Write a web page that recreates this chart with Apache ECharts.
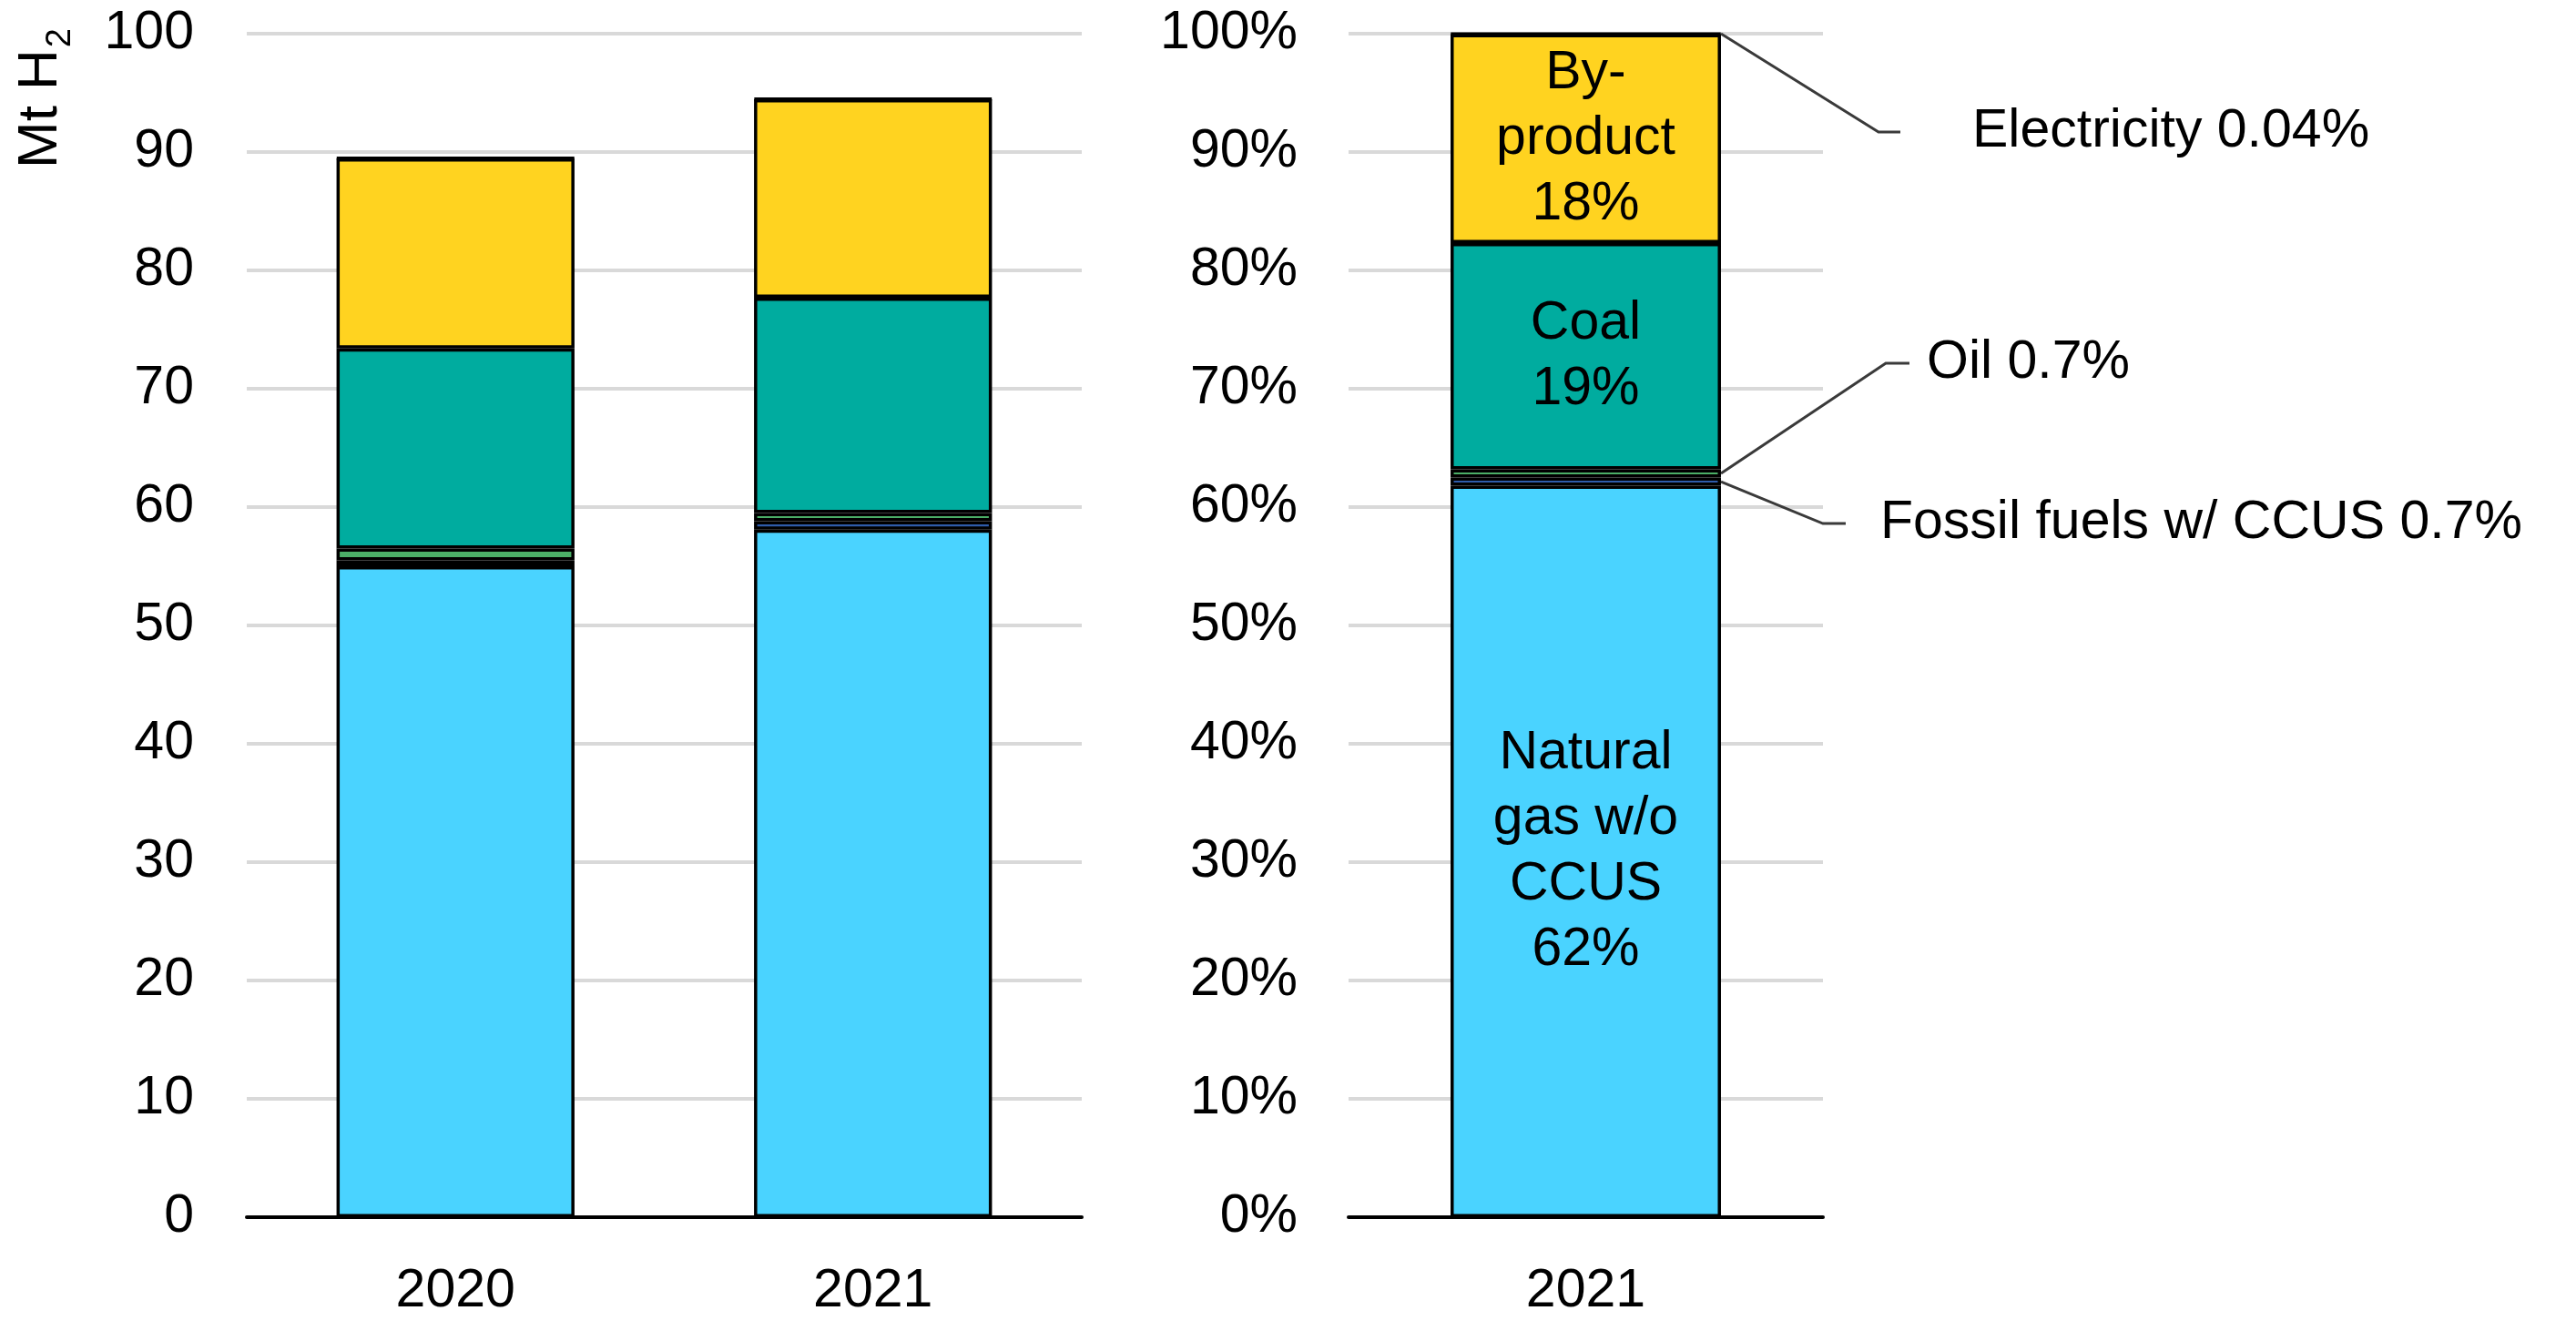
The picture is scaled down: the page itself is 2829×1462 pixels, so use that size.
<!DOCTYPE html>
<html>
<head>
<meta charset="utf-8">
<script src="https://cdn.jsdelivr.net/npm/echarts@6/dist/echarts.min.js"></script>
<style>
  html, body { margin: 0; padding: 0; background: #fff; }
  #chart { width: 2829px; height: 1462px; }
</style>
</head>
<body>
<div id="chart"></div>
<script>
// Hydrogen production by source: Mt H2 (left) and 2021 shares (right)
const years = ["2020", "2021"];
const shareYear = ["2021"];

const gasMt = [55.0, 58.1];
const ccusMt = [0.5, 0.7];
const oilMt = [1.0, 0.7];
const coalMt = [16.9, 18.2];
const byproductMt = [16.07, 16.76];
const electricityMt = [0.03, 0.04];

const gasPct = [61.8];
const ccusPct = [0.7];
const oilPct = [0.7];
const coalPct = [19.1];
const byproductPct = [17.66];
const electricityPct = [0.04];

const insideLabels = {
  gas: "Natural\ngas w/o\nCCUS\n62%",
  coal: "Coal\n19%",
  byproduct: "By-\nproduct\n18%"
};
const calloutLabels = {
  electricity: "Electricity 0.04%",
  oil: "Oil 0.7%",
  ccus: "Fossil fuels w/ CCUS 0.7%"
};

const COLORS = {
  gas: "#4AD3FF",
  ccus: "#2F5CAA",
  oil: "#4CAF67",
  coal: "#00AC9F",
  byproduct: "#FFD320",
  electricity: "#1a1a1a"
};

const FONT = "'Liberation Sans', Arial, sans-serif";
const FS = 59;

const chart = echarts.init(document.getElementById("chart"));

function yAxisCfg(gridIndex, suffix, margin) {
  return {
    type: "value",
    gridIndex,
    min: 0,
    max: 100,
    interval: 10,
    axisLine: { show: false },
    axisTick: { show: false },
    axisLabel: {
      fontSize: FS, fontFamily: FONT, color: "#000", margin,
      formatter: (v) => `${v}${suffix}`
    },
    splitLine: { lineStyle: { color: "#D9D9D9", width: 4 } }
  };
}

function xAxisCfg(gridIndex, data) {
  return {
    type: "category",
    gridIndex,
    data,
    axisLine: { lineStyle: { color: "#000", width: 4 } },
    axisTick: { show: false },
    axisLabel: { fontSize: FS, fontFamily: FONT, color: "#000", margin: 52 }
  };
}

function barSeries(name, key, data, axisIdx, stack, label) {
  return {
    name,
    type: "bar",
    stack,
    xAxisIndex: axisIdx,
    yAxisIndex: axisIdx,
    data,
    barWidth: "57%",
    itemStyle: { color: COLORS[key], borderColor: "#000", borderWidth: 3.5 },
    label: label ? {
      show: true,
      position: "inside",
      formatter: label,
      fontSize: FS,
      lineHeight: 72,
      fontFamily: FONT,
      color: "#000"
    } : { show: false },
    emphasis: { disabled: true }
  };
}

chart.setOption({
  animation: false,
  grid: [
    { left: 271, right: 2829 - 1188, top: 37, bottom: 125 },
    { left: 1481, right: 2829 - 2002, top: 37, bottom: 125 }
  ],
  xAxis: [xAxisCfg(0, years), xAxisCfg(1, shareYear)],
  yAxis: [yAxisCfg(0, "", 58), yAxisCfg(1, "%", 56)],
  series: [
    barSeries("Natural gas w/o CCUS", "gas", gasMt, 0, "mt"),
    barSeries("Fossil fuels w/ CCUS", "ccus", ccusMt, 0, "mt"),
    barSeries("Oil", "oil", oilMt, 0, "mt"),
    barSeries("Coal", "coal", coalMt, 0, "mt"),
    barSeries("By-product", "byproduct", byproductMt, 0, "mt"),
    barSeries("Electricity", "electricity", electricityMt, 0, "mt"),

    barSeries("Natural gas w/o CCUS", "gas", gasPct, 1, "pct", insideLabels.gas),
    barSeries("Fossil fuels w/ CCUS", "ccus", ccusPct, 1, "pct"),
    barSeries("Oil", "oil", oilPct, 1, "pct"),
    barSeries("Coal", "coal", coalPct, 1, "pct", insideLabels.coal),
    barSeries("By-product", "byproduct", byproductPct, 1, "pct", insideLabels.byproduct),
    barSeries("Electricity", "electricity", electricityPct, 1, "pct")
  ]
});

// Callouts on the share bar, anchored to the bar through the axes
function drawCallouts() {
  const rect = chart.getModel().getComponent("grid", 1).coordinateSystem.getRect();
  const cx = chart.convertToPixel({ xAxisIndex: 1 }, shareYear[0]);
  const xRight = cx + rect.width * 0.57 / 2;
  const yAt = (v) => chart.convertToPixel({ yAxisIndex: 1 }, v);

  const callouts = [
    { text: calloutLabels.electricity, y0: yAt(100), dx: 173, dy: 108, tail: 24, gap: 79 },
    { text: calloutLabels.oil, y0: yAt(gasPct[0] + ccusPct[0] + oilPct[0] / 2), dx: 181, dy: -121, tail: 26, gap: 19 },
    { text: calloutLabels.ccus, y0: yAt(gasPct[0] + ccusPct[0] / 2), dx: 112, dy: 46, tail: 25, gap: 38 }
  ];

  const elements = [];
  callouts.forEach(c => {
    const ex = xRight + c.dx, ey = c.y0 + c.dy;
    elements.push({
      type: "polyline",
      silent: true,
      shape: { points: [[xRight, c.y0], [ex, ey], [ex + c.tail, ey]] },
      style: { stroke: "#3a3a3a", lineWidth: 3, fill: null }
    });
    elements.push({
      type: "text",
      silent: true,
      x: ex + c.tail + c.gap,
      y: ey,
      style: { text: c.text, font: `${FS}px ${FONT}`, fill: "#000", align: "left", verticalAlign: "middle" }
    });
  });

  // Axis title of the left panel (Mt H with subscript 2)
  elements.push({
    type: "text",
    silent: true,
    x: 45,
    y: 108,
    rotation: Math.PI / 2,
    style: {
      text: "{a|Mt H}{b|2}",
      rich: {
        a: { fontSize: 62, fontFamily: FONT, fill: "#000", verticalAlign: "bottom" },
        b: { fontSize: 38, fontFamily: FONT, fill: "#000", verticalAlign: "bottom", padding: [0, 0, -10, 2] }
      },
      align: "center",
      verticalAlign: "middle"
    }
  });

  chart.setOption({ graphic: { elements } });
}

drawCallouts();
</script>
</body>
</html>
